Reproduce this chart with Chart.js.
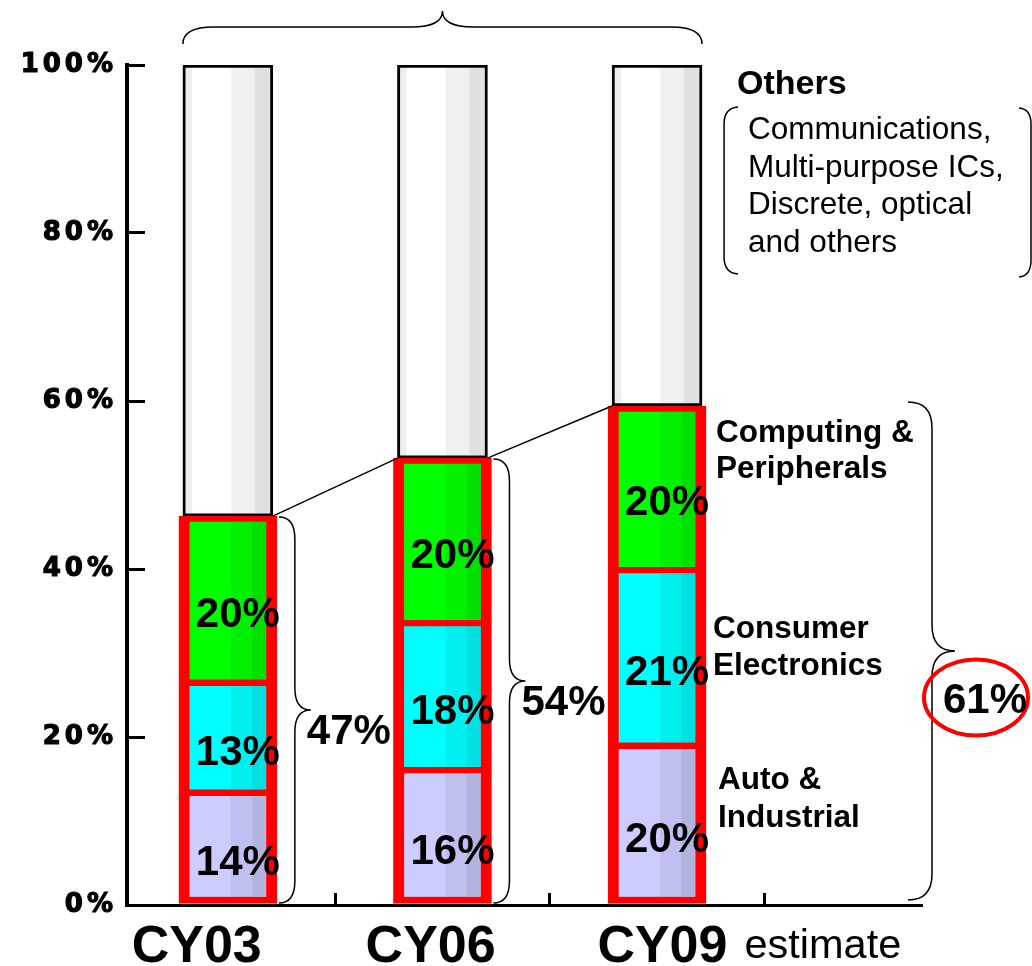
<!DOCTYPE html>
<html>
<head>
<meta charset="utf-8">
<title>Application mix</title>
<script src="https://cdn.jsdelivr.net/npm/chart.js@4.4.1/dist/chart.umd.min.js"></script>
<style>
  html, body { margin: 0; padding: 0; background: #fff; }
  #wrap { width: 1032px; height: 966px; position: relative; }
</style>
</head>
<body>
<div id="wrap"><canvas id="share"></canvas></div>
<script>
// Years and shares (% of total)
const years = ['CY03', 'CY06', 'CY09'];
const autoShare = [13.3, 16.0, 18.9];
const consumerShare = [13.1, 17.5, 20.9];
const computingShare = [19.9, 19.7, 19.6];
const othersShare = [53.7, 46.8, 40.6];

// Percentages as printed on the chart
const autoLabels = ['14%', '16%', '20%'];
const consumerLabels = ['13%', '18%', '21%'];
const computingLabels = ['20%', '20%', '20%'];
const totalLabels = ['47%', '54%', '61%'];

const yTicks = [0, 20, 40, 60, 80, 100];

// Styling only
const FONT = '"Liberation Sans", Arial, sans-serif';
const labelNudge = [-0.145, -0.055, 0.025]; // year labels sit a little off the bar centres
const colouredBorder = { left: 11, right: 11 };

function toPoints(values) {
  return values.map((v, i) => ({ x: i, y: v }));
}

// Right-pointing curly brace
function brace(ctx, x0, spine, cusp, yTop, yBot, r) {
  const ym = (yTop + yBot) / 2;
  ctx.beginPath();
  ctx.moveTo(x0, yTop);
  ctx.quadraticCurveTo(spine, yTop, spine, yTop + r);
  ctx.lineTo(spine, ym - r);
  ctx.quadraticCurveTo(spine, ym, cusp, ym);
  ctx.quadraticCurveTo(spine, ym, spine, ym + r);
  ctx.lineTo(spine, yBot - r);
  ctx.quadraticCurveTo(spine, yBot, x0, yBot);
  ctx.stroke();
}

function text(ctx, str, x, y, font, align) {
  ctx.font = font;
  ctx.textAlign = align || 'left';
  ctx.textBaseline = 'alphabetic';
  ctx.fillStyle = '#000';
  ctx.fillText(str, x, y);
}

const barDecor = {
  id: 'barDecor',
  afterDatasetsDraw(chart) {
    const ctx = chart.ctx;
    ctx.save();
    // cylinder shading on every segment
    chart.data.datasets.forEach((ds, di) => {
      const bw = ds.borderWidth;
      chart.getDatasetMeta(di).data.forEach(bar => {
        const p = bar.getProps(['x', 'y', 'base', 'width'], true);
        const left = p.x - p.width / 2 + bw.left;
        const w = p.width - bw.left - bw.right;
        const top = Math.min(p.y, p.base) + bw.top;
        const h = Math.abs(p.base - p.y) - bw.top - bw.bottom;
        ctx.fillStyle = 'rgba(0,0,0,0.06)';
        ctx.fillRect(left + w * 0.54, top, w * 0.28, h);
        ctx.fillStyle = 'rgba(0,0,0,0.12)';
        ctx.fillRect(left + w * 0.82, top, w * 0.18, h);
        if (ds.label === 'Others') {
          ctx.fillStyle = 'rgba(0,0,0,0.07)';
          ctx.fillRect(left, top, 6, h);
        }
      });
    });

    // printed percentages inside the segments
    const printed = [autoLabels, consumerLabels, computingLabels];
    printed.forEach((labels, di) => {
      chart.getDatasetMeta(di).data.forEach((bar, i) => {
        const p = bar.getProps(['x', 'y', 'base'], true);
        const cy = (p.y + p.base) / 2 + 12;
        text(ctx, labels[i], p.x + 10, cy + 15, 'bold 42px ' + FONT, 'center');
      });
    });

    // connector lines between stack tops
    const tops = chart.getDatasetMeta(2).data;
    const others = chart.getDatasetMeta(3).data;
    ctx.strokeStyle = '#000';
    ctx.lineWidth = 1.5;
    for (let i = 0; i < tops.length - 1; i++) {
      const a = others[i].getProps(['x', 'width'], true);
      const b = others[i + 1].getProps(['x', 'width'], true);
      ctx.beginPath();
      ctx.moveTo(a.x + a.width / 2, tops[i].y);
      ctx.lineTo(b.x - b.width / 2, tops[i + 1].y);
      ctx.stroke();
    }
    ctx.restore();
    // y tick labels are drawn next (z: 1) in a wide face
    ctx.letterSpacing = '4px';
  },
  afterDraw(chart) {
    const ctx = chart.ctx;
    ctx.letterSpacing = '0px';
    ctx.save();
    const y = chart.scales.y;
    const x = chart.scales.x;
    const others = chart.getDatasetMeta(3).data;
    const tops = chart.getDatasetMeta(2).data;
    const base = y.getPixelForValue(0);

    ctx.strokeStyle = '#000';
    ctx.lineWidth = 1.5;

    // top brace across all three bars
    const l = others[0].x - others[0].width / 2;
    const r = others[2].x + others[2].width / 2;
    const mid = (l + r) / 2;
    ctx.beginPath();
    ctx.moveTo(l, 44);
    ctx.quadraticCurveTo(l, 27, l + 31, 27);
    ctx.lineTo(mid - 31, 27);
    ctx.quadraticCurveTo(mid, 27, mid, 11);
    ctx.quadraticCurveTo(mid, 27, mid + 31, 27);
    ctx.lineTo(r - 31, 27);
    ctx.quadraticCurveTo(r, 27, r, 44);
    ctx.stroke();

    // Others legend text with bracket
    const ox = r + 35;
    text(ctx, 'Others', ox, 94, 'bold 34px ' + FONT);
    ctx.beginPath();
    ctx.moveTo(ox + 1, 107);
    ctx.quadraticCurveTo(ox - 13, 108, ox - 13, 124);
    ctx.lineTo(ox - 13, 257);
    ctx.quadraticCurveTo(ox - 13, 273, ox + 1, 274);
    ctx.stroke();
    ctx.beginPath();
    ctx.moveTo(1019, 108);
    ctx.quadraticCurveTo(1031, 109, 1031, 124);
    ctx.lineTo(1031, 260);
    ctx.quadraticCurveTo(1031, 276, 1019, 277);
    ctx.stroke();
    ['Communications,', 'Multi-purpose ICs,', 'Discrete, optical', 'and others']
      .forEach((s, i) => text(ctx, s, ox + 11, 139 + i * 37.7, '31.5px ' + FONT));

    // segment names beside the CY09 bar
    const rb = tops[2].x + tops[2].width / 2;
    const nameFont = 'bold 31.5px ' + FONT;
    text(ctx, 'Computing &', rb + 10, 442, nameFont);
    text(ctx, 'Peripherals', rb + 10, 478, nameFont);
    text(ctx, 'Consumer', rb + 7, 638, nameFont);
    text(ctx, 'Electronics', rb + 7, 675, nameFont);
    text(ctx, 'Auto &', rb + 12, 789, nameFont);
    text(ctx, 'Industrial', rb + 12, 827, nameFont);

    // total braces
    const totFont = 'bold 42px ' + FONT;
    for (let i = 0; i < 2; i++) {
      const x0 = tops[i].x + tops[i].width / 2 + 2;
      const yt = tops[i].y + 1;
      brace(ctx, x0, x0 + 16, x0 + 32, yt, base - 2, 22);
      text(ctx, totalLabels[i], x0 + 28, (yt + base) / 2 + 18 + 15, totFont);
    }
    const x9 = 908;
    const yt9 = tops[2].y - 4;
    brace(ctx, x9, x9 + 24, x9 + 47, yt9, base - 5, 26);
    const cy9 = (yt9 + base) / 2 + 44;
    ctx.strokeStyle = '#ff0000';
    ctx.lineWidth = 4;
    ctx.beginPath();
    ctx.ellipse(976, cy9, 52, 38, 0, 0, Math.PI * 2);
    ctx.stroke();
    text(ctx, totalLabels[2], 985, cy9 + 15, totFont, 'center');

    // "estimate" after the CY09 tick label
    const t9 = x.ticks.find(t => t.label === 'CY09');
    ctx.font = 'bold 52px ' + FONT;
    const w9 = ctx.measureText('CY09').width;
    text(ctx, 'estimate', x.getPixelForValue(t9.value) + w9 / 2 + 17, 958, '41.5px ' + FONT);
    ctx.restore();
  }
};

const red = '#ff0000';

new Chart(document.getElementById('share'), {
  type: 'bar',
  data: {
    datasets: [
      {
        label: 'Auto & Industrial',
        data: toPoints(autoShare),
        backgroundColor: '#ccccff',
        borderColor: red,
        borderWidth: { ...colouredBorder, top: 3, bottom: 7 },
        barThickness: 98
      },
      {
        label: 'Consumer Electronics',
        data: toPoints(consumerShare),
        backgroundColor: '#00ffff',
        borderColor: red,
        borderWidth: { ...colouredBorder, top: 3, bottom: 4 },
        barThickness: 98
      },
      {
        label: 'Computing & Peripherals',
        data: toPoints(computingShare),
        backgroundColor: '#00ff00',
        borderColor: red,
        borderWidth: { ...colouredBorder, top: 6, bottom: 4 },
        barThickness: 98
      },
      {
        label: 'Others',
        data: toPoints(othersShare),
        backgroundColor: '#ffffff',
        borderColor: '#000000',
        borderWidth: { left: 3, right: 3, top: 3, bottom: 3 },
        barThickness: 90
      }
    ].map(ds => ({ ...ds, stack: 'mix', borderSkipped: false }))
  },
  options: {
    responsive: true,
    maintainAspectRatio: false,
    animation: false,
    events: [],
    layout: { padding: { top: 65, right: 111, left: 0, bottom: 0 } },
    plugins: {
      legend: { display: false },
      tooltip: { enabled: false }
    },
    scales: {
      x: {
        type: 'linear',
        offset: false,
        min: -0.47,
        max: 3.23,
        afterBuildTicks: scale => {
          const ticks = [];
          years.forEach((name, i) => {
            ticks.push({ value: i + labelNudge[i], name: name });
            ticks.push({ value: i + 0.5, boundary: true });
          });
          scale.ticks = ticks;
        },
        afterFit: scale => { scale.height = 61; },
        ticks: {
          autoSkip: false,
          maxRotation: 0,
          minRotation: 0,
          padding: 23,
          color: '#000',
          font: { family: FONT, size: 52, weight: 'bold' },
          callback: (value, index, ticks) => ticks[index].name || ''
        },
        grid: {
          offset: false,
          drawOnChartArea: false,
          tickLength: -12,
          lineWidth: 3,
          color: c => (c.tick && c.tick.boundary ? '#000' : 'rgba(0,0,0,0)')
        },
        border: { color: '#000', width: 3 }
      },
      y: {
        stacked: true,
        min: 0,
        max: 100,
        afterBuildTicks: scale => { scale.ticks = yTicks.map(v => ({ value: v })); },
        afterFit: scale => { scale.width = 127; },
        ticks: {
          z: 1,
          padding: 28,
          color: '#000',
          textStrokeColor: '#000',
          textStrokeWidth: 1.2,
          font: { family: '"DejaVu Sans", sans-serif', size: 26, weight: 'bold' },
          callback: v => v + '%'
        },
        grid: {
          drawOnChartArea: false,
          tickLength: -18,
          lineWidth: 3,
          color: '#000'
        },
        border: { color: '#000', width: 4 }
      }
    }
  },
  plugins: [barDecor]
});
</script>
</body>
</html>
